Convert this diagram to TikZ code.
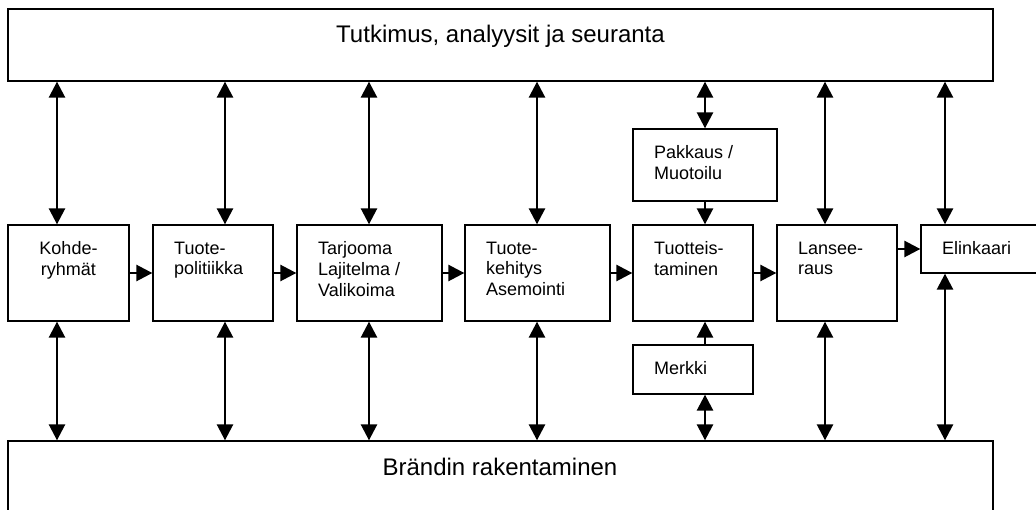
\documentclass[tikz,border=0pt]{standalone}
\usepackage{fontspec}
\setmainfont{Liberation Sans}
\usetikzlibrary{arrows.meta}
\tikzset{
  box/.style={draw, line width=1.3pt, rectangle, inner sep=0pt},
  lbl/.style={inner sep=0pt, font=\fontsize{18}{20.7}\selectfont, align=left, anchor=north west},
  big/.style={inner sep=0pt, font=\fontsize{24}{28}\selectfont, anchor=base},
  arr/.style={line width=2.6pt, -{Triangle[length=16pt,width=16pt]}},
  darr/.style={line width=2.6pt, {Triangle[length=16pt,width=16pt]}-{Triangle[length=16pt,width=16pt]}},
}
\begin{document}
\begin{tikzpicture}[x=1pt,y=-1pt]
\useasboundingbox (0,0) rectangle (1036,510);
% big boxes
\node[box, minimum width=985pt, minimum height=72pt] (top) at (500.5,45) {};
\node[box, minimum width=985pt, minimum height=79pt] (bot) at (500.5,480.5) {};
\node[big] (ttop) at (500.5,43) {Tutkimus, analyysit ja seuranta};
\node[big] (tbot) at (500,475) {Brändin rakentaminen};
% row boxes
\node[box, minimum width=121pt, minimum height=96pt] (k)  at (68.5,273) {};
\node[box, minimum width=120pt, minimum height=96pt] (tp) at (213,273) {};
\node[box, minimum width=145pt, minimum height=96pt] (tj) at (369.5,273) {};
\node[box, minimum width=145pt, minimum height=96pt] (tk) at (537.5,273) {};
\node[box, minimum width=120pt, minimum height=96pt] (ts) at (693,273) {};
\node[box, minimum width=120pt, minimum height=96pt] (la) at (837,273) {};
\node[box, minimum width=119pt, minimum height=48pt] (el) at (980.5,249) {};
\node[box, minimum width=144pt, minimum height=72pt] (pk) at (705,165) {};
\node[box, minimum width=120pt, minimum height=49pt] (mk) at (693,369.5) {};
% labels
\node[lbl, align=center, anchor=north] (tk1) at (68.5,241.5) {Kohde-\\ryhmät};
\node[lbl] (ttp) at (174,241.5) {Tuote-\\politiikka};
\node[lbl] (ttj) at (318,241.5) {Tarjooma\\Lajitelma /\\Valikoima};
\node[lbl] (ttk) at (486,241.5) {Tuote-\\kehitys\\Asemointi};
\node[lbl] (tts) at (654,241.5) {Tuotteis-\\taminen};
\node[lbl] (tla) at (798,241.5) {Lansee-\\raus};
\node[lbl] (tel) at (942,241.5) {Elinkaari};
\node[lbl] (tpk) at (654,145.5) {Pakkaus /\\Muotoilu};
\node[lbl] (tmk) at (654,361.5) {Merkki};
% column x positions
\coordinate (c1) at (57,0);
\coordinate (c2) at (225,0);
\coordinate (c3) at (369,0);
\coordinate (c4) at (537,0);
\coordinate (c5) at (705,0);
\coordinate (c6) at (825,0);
\coordinate (c7) at (945,0);
% horizontal arrows
\draw[arr] (k.east) -- (tp.west);
\draw[arr] (tp.east) -- (tj.west);
\draw[arr] (tj.east) -- (tk.west);
\draw[arr] (tk.east) -- (ts.west);
\draw[arr] (ts.east) -- (la.west);
\draw[arr] (la.east |- el.west) -- (el.west);
% vertical arrows top
\draw[darr] (c1 |- top.south) -- (c1 |- k.north);
\draw[darr] (c2 |- top.south) -- (c2 |- tp.north);
\draw[darr] (c3 |- top.south) -- (c3 |- tj.north);
\draw[darr] (c4 |- top.south) -- (c4 |- tk.north);
\draw[darr] (c5 |- top.south) -- (c5 |- pk.north);
\draw[arr]  (c5 |- pk.south) -- (c5 |- ts.north);
\draw[darr] (c6 |- top.south) -- (c6 |- la.north);
\draw[darr] (c7 |- top.south) -- (c7 |- el.north);
% vertical arrows bottom
\draw[darr] (c1 |- k.south) -- (c1 |- bot.north);
\draw[darr] (c2 |- tp.south) -- (c2 |- bot.north);
\draw[darr] (c3 |- tj.south) -- (c3 |- bot.north);
\draw[darr] (c4 |- tk.south) -- (c4 |- bot.north);
\draw[arr]  (c5 |- mk.north) -- (c5 |- ts.south);
\draw[darr] (c5 |- mk.south) -- (c5 |- bot.north);
\draw[darr] (c6 |- la.south) -- (c6 |- bot.north);
\draw[darr] (c7 |- el.south) -- (c7 |- bot.north);
\end{tikzpicture}
\end{document}
